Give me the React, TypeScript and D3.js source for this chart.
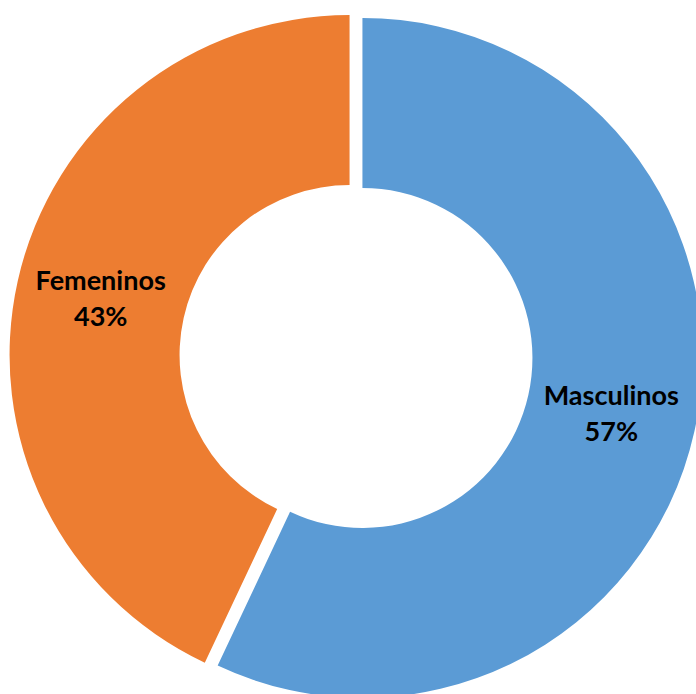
import React from "react";
import * as d3 from "d3";

const categories = ["Masculinos", "Femeninos"];
const values = [57, 43];
const colors = ["#5B9BD5", "#ED7D31"];

export default function App() {
  const width = 696;
  const height = 694;
  const cx = 356;
  const cy = 356.5;
  const outerR = 340;
  const innerR = 170;
  const explode = 6.6;

  const data = categories.map((c, i) => ({ name: c, value: values[i] }));
  const pie = d3
    .pie<{ name: string; value: number }>()
    .sort(null)
    .value((d) => d.value);
  const arcs = pie(data);
  const arc = d3
    .arc<d3.PieArcDatum<{ name: string; value: number }>>()
    .innerRadius(innerR)
    .outerRadius(outerR);

  return (
    <svg
      width={width}
      height={height}
      style={{ position: "absolute", left: 0, top: 0, background: "#fff" }}
    >
      <g transform={`translate(${cx},${cy})`}>
        {arcs.map((a, i) => {
          const mid = (a.startAngle + a.endAngle) / 2;
          const dx = Math.sin(mid) * explode;
          const dy = -Math.cos(mid) * explode;
          const [lx, ly] = arc.centroid(a);
          return (
            <g key={a.data.name} transform={`translate(${dx},${dy})`}>
              <path d={arc(a) || ""} fill={colors[i]} />
              <text
                x={lx}
                y={ly}
                textAnchor="middle"
                fontFamily="Lato, 'Open Sans', sans-serif"
                fontWeight="bold"
                fontSize={27}
                fill="#000"
              >
                <tspan x={lx} dy={-9}>
                  {a.data.name}
                </tspan>
                <tspan x={lx} dy={36}>
                  {`${a.data.value}%`}
                </tspan>
              </text>
            </g>
          );
        })}
      </g>
    </svg>
  );
}
